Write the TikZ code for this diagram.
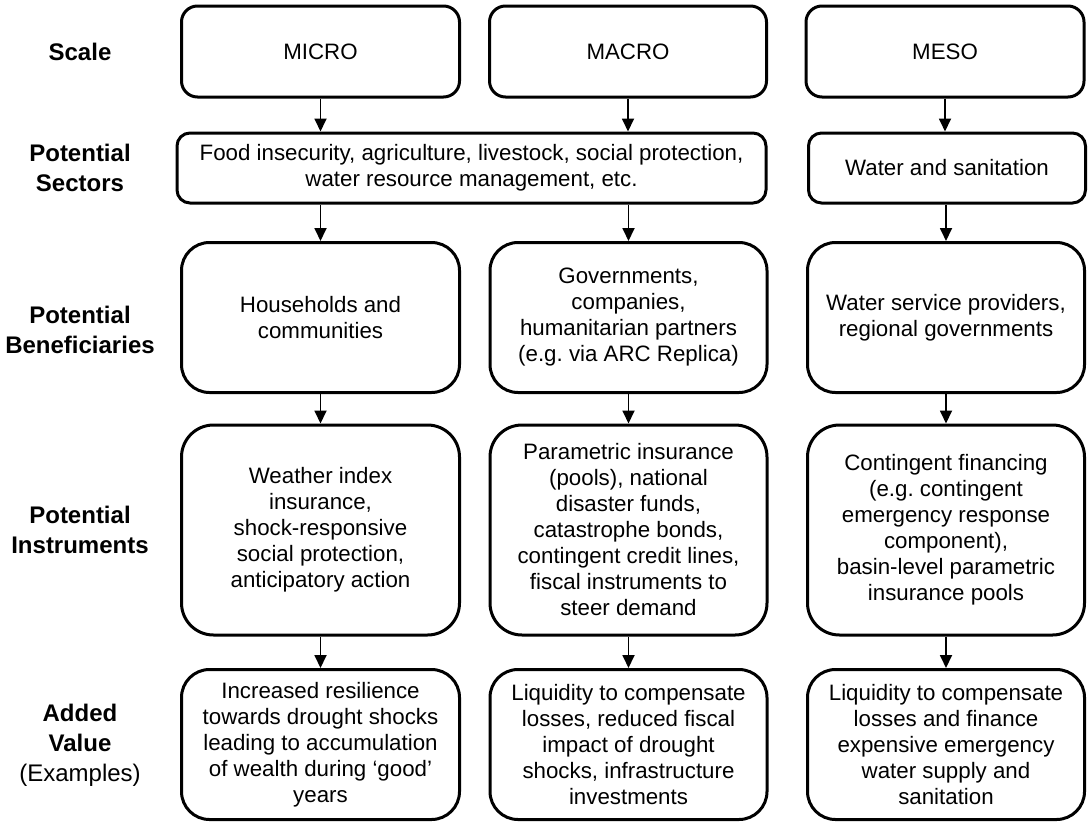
\documentclass[tikz,border=0pt]{standalone}
\usepackage{fontspec}
\setmainfont{Liberation Sans}
\usetikzlibrary{arrows.meta}
\frenchspacing
\tikzset{
  box/.style={draw=black, line width=3pt, rounded corners=16pt, align=center,
    font=\fontsize{22.3}{26}\selectfont, inner sep=0pt},
  tallbox/.style={box, rounded corners=28pt},
  lbl/.style={align=center, font=\fontsize{24}{30}\selectfont\bfseries},
  arr/.style={line width=1.8pt, -{Triangle[length=13pt,width=12pt]}}
}
\begin{document}
\begin{tikzpicture}[x=1pt,y=-1pt]
\useasboundingbox (0,0) rectangle (1092,825);
% labels
\node[lbl] (l1) at (80,52) {Scale};
\node[lbl] (l2) at (80,168) {Potential\\Sectors};
\node[lbl] (l3) at (80,330) {Potential\\Beneficiaries};
\node[lbl] (l4) at (80,530) {Potential\\Instruments};
\node[lbl] (l5) at (80,745) {Added\\Value\\{\normalfont(Examples)}};
% scale row
\node[box, minimum width=278pt, minimum height=91pt] (micro) at (320.5,51.5) {MICRO};
\node[box, minimum width=277pt, minimum height=91pt] (macro) at (628,51.5) {MACRO};
\node[box, minimum width=278pt, minimum height=91pt] (meso) at (945,51.5) {MESO};
% sectors
\node[box, rounded corners=13pt, minimum width=589pt, minimum height=70pt] (sec1) at (471.5,168) {Food insecurity, agriculture, livestock, social protection,\\water resource management, etc.};
\node[box, rounded corners=13pt, minimum width=277pt, minimum height=70pt] (sec2) at (947,168) {Water and sanitation};
% beneficiaries
\node[tallbox, minimum width=278pt, minimum height=150pt] (ben1) at (320.5,317.5) {Households and\\communities};
\node[tallbox, minimum width=277pt, minimum height=150pt] (ben2) at (628.5,317.5) {Governments,\\companies,\\humanitarian partners\\(e.g. via ARC Replica)};
\node[tallbox, minimum width=277pt, minimum height=150pt] (ben3) at (946,317.5) {Water service providers,\\regional governments};
% instruments
\node[tallbox, rounded corners=32pt, minimum width=278pt, minimum height=210pt] (ins1) at (320.5,530) {Weather index\\insurance,\\shock-responsive\\social protection,\\anticipatory action};
\node[tallbox, rounded corners=32pt, minimum width=277pt, minimum height=210pt] (ins2) at (628.5,530) {Parametric insurance\\(pools), national\\disaster funds,\\catastrophe bonds,\\contingent credit lines,\\fiscal instruments to\\steer demand};
\node[tallbox, rounded corners=32pt, minimum width=277pt, minimum height=210pt] (ins3) at (946,530) {Contingent financing\\(e.g. contingent\\emergency response\\component),\\basin-level parametric\\insurance pools};
% added value
\node[tallbox, minimum width=278pt, minimum height=150pt] (av1) at (320.5,744.5) {Increased resilience\\towards drought shocks\\leading to accumulation\\of wealth during ‘good’\\years};
\node[tallbox, minimum width=277pt, minimum height=150pt] (av2) at (628.5,744.5) {Liquidity to compensate\\losses, reduced fiscal\\impact of drought\\shocks, infrastructure\\investments};
\node[tallbox, minimum width=277pt, minimum height=150pt] (av3) at (946,744.5) {Liquidity to compensate\\losses and finance\\expensive emergency\\water supply and\\sanitation};
% arrows
\draw[arr] (micro.south) -- (micro.south |- sec1.north);
\draw[arr] (macro.south) -- (macro.south |- sec1.north);
\draw[arr] (meso.south) -- (meso.south |- sec2.north);
\draw[arr] (ben1.north |- sec1.south) -- (ben1.north);
\draw[arr] (ben2.north |- sec1.south) -- (ben2.north);
\draw[arr] (sec2.south -| ben3.north) -- (ben3.north);
\draw[arr] (ben1.south) -- (ins1.north);
\draw[arr] (ben2.south) -- (ins2.north);
\draw[arr] (ben3.south) -- (ins3.north);
\draw[arr] (ins1.south) -- (av1.north);
\draw[arr] (ins2.south) -- (av2.north);
\draw[arr] (ins3.south) -- (av3.north);
\end{tikzpicture}
\end{document}
